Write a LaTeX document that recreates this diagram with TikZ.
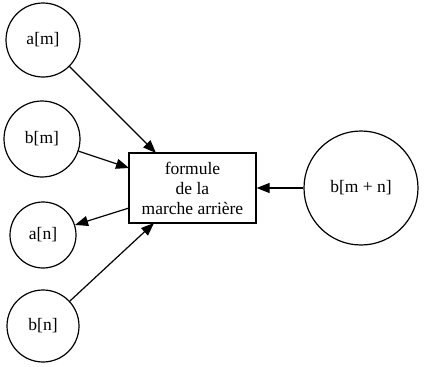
\documentclass[tikz,border=0pt]{standalone}
\usepackage{fontspec}
\setmainfont{Liberation Serif}
\usetikzlibrary{arrows.meta}
\begin{document}
\begin{tikzpicture}[x=1pt,y=-1pt,
  circ/.style={draw,circle,line width=1.2pt,inner sep=0pt,font=\fontsize{17.5}{20}\selectfont},
  boxn/.style={draw,rectangle,line width=1.2pt,align=center,minimum width=127pt,minimum height=70pt,inner sep=0pt,font=\fontsize{17.5}{20}\selectfont},
  arr/.style={line width=1.2pt,-{Triangle[length=13pt,width=10pt]}}]
\useasboundingbox (0,0) rectangle (424,367);
\node[circ,minimum size=74pt] (am) at (43,40) {a[m]};
\node[circ,minimum size=76pt] (bm) at (42,139) {b[m]};
\node[circ,minimum size=66pt] (an) at (43,235) {a[n]};
\node[circ,minimum size=72pt] (bn) at (43,326) {b[n]};
\node[circ,minimum size=114pt] (bmn) at (361,188) {b[m + n]};
\node[boxn] (box) at (192.5,188) {formule\\de la\\marche arrière};
\coordinate (tA) at (156,153);
\coordinate (tB) at (129,168);
\coordinate (sN) at (129,208);
\coordinate (tN) at (154,223);
\draw[arr] (am) -- (tA);
\draw[arr] (bm) -- (tB);
\draw[arr] (sN) -- (an);
\draw[arr] (bn) -- (tN);
\draw[arr] (bmn) -- (box);
\end{tikzpicture}
\end{document}
